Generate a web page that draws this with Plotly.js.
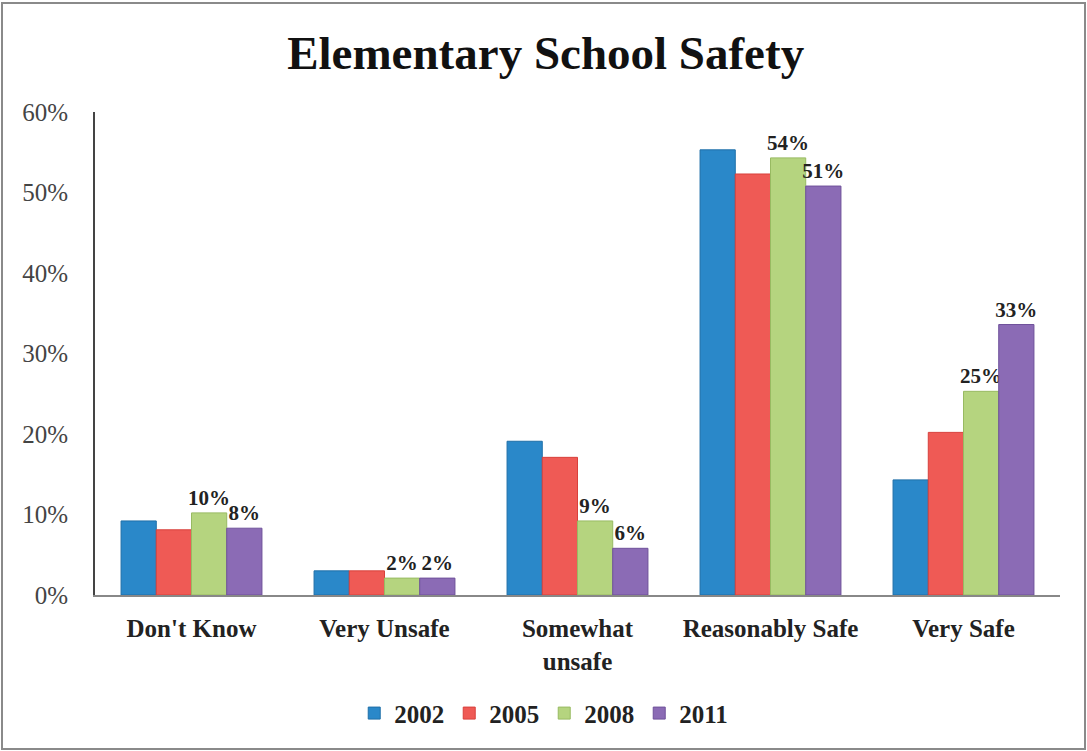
<!DOCTYPE html>
<html>
<head>
<meta charset="utf-8">
<script src="https://cdn.plot.ly/plotly-3.0.1.min.js"></script>
<style>
  html, body { margin: 0; padding: 0; background: #fff; }
  #wrap { position: relative; width: 1087px; height: 751px; }
  #chart { position: absolute; left: 0; top: 0; width: 1087px; height: 751px; }
  #frame { position: absolute; left: 1px; top: 2px; width: 1081px; height: 744px;
           border: 2px solid #8a8a8a; pointer-events: none; }
</style>
</head>
<body>
<div id="wrap"><div id="chart"></div><div id="frame"></div></div>
<script>
const categories = ["Don't Know", "Very Unsafe", "Somewhat<br>unsafe", "Reasonably Safe", "Very Safe"];
const years = ["2002", "2005", "2008", "2011"];
const v2002 = [9.2, 3.0, 19.1, 55.3, 14.3];
const v2005 = [8.1, 3.0, 17.1, 52.3, 20.2];
const v2008 = [10.2, 2.1, 9.2, 54.3, 25.3];
const v2011 = [8.3, 2.1, 5.8, 50.8, 33.6];
const labels2002 = ["", "", "", "", ""];
const labels2005 = ["", "", "", "", ""];
const labels2008 = ["10%", "2%", "9%", "54%", "25%"];
const labels2011 = ["8%", "2%", "6%", "51%", "33%"];
const yTickVals = [0, 10, 20, 30, 40, 50, 60];
const yTickText = ["0%", "10%", "20%", "30%", "40%", "50%", "60%"];

const colors = ["#2a88c9", "#ef5a55", "#b5d47f", "#8b6bb5"];
const edges = ["#1f6fa8", "#d8403c", "#98ba62", "#6f519a"];
const series = [v2002, v2005, v2008, v2011];
const labels = [labels2002, labels2005, labels2008, labels2011];

const traces = series.map((vals, i) => ({
  type: 'bar',
  name: years[i],
  x: categories,
  y: vals,
  text: labels[i],
  textposition: 'outside',
  texttemplate: '<b>%{text}</b>',
  constraintext: 'none',
  cliponaxis: false,
  outsidetextfont: { family: 'Liberation Serif, serif', size: 21, color: '#222' },
  marker: { color: colors[i], line: { color: edges[i], width: 1 } },
  hoverinfo: 'x+y'
}));

const layout = {
  width: 1087,
  height: 751,
  paper_bgcolor: '#fff',
  plot_bgcolor: '#fff',
  margin: { l: 95, r: 27, t: 112, b: 156 },
  title: {
    text: '<b>Elementary School Safety</b>',
    font: { family: 'Liberation Serif, serif', size: 47, color: '#111' },
    x: 0.502, xref: 'container', xanchor: 'center',
    y: 0.93, yref: 'container', yanchor: 'middle'
  },
  barmode: 'group',
  bargap: 0.27,
  bargroupgap: 0,
  showlegend: true,
  legend: {
    orientation: 'h',
    x: 0.465, xanchor: 'center',
    y: -0.245, yanchor: 'middle',
    font: { family: 'Liberation Serif, serif', size: 25, color: '#222', weight: 'bold' },
    itemwidth: 30,
    traceorder: 'normal'
  },
  xaxis: {
    showgrid: false,
    showline: true,
    linecolor: '#888',
    linewidth: 2,
    ticks: '',
    tickfont: { family: 'Liberation Serif, serif', size: 25, color: '#222', weight: 'bold' },
    ticklabelstandoff: 10
  },
  yaxis: {
    range: [0, 60],
    tickvals: yTickVals,
    ticktext: yTickText,
    showgrid: false,
    zeroline: false,
    showline: true,
    linecolor: '#444',
    linewidth: 2,
    ticks: '',
    tickfont: { family: 'Liberation Serif, serif', size: 25, color: '#444' },
    ticklabelstandoff: 20
  }
};

Plotly.newPlot('chart', traces, layout, { displayModeBar: false, staticPlot: true });
</script>
</body>
</html>
